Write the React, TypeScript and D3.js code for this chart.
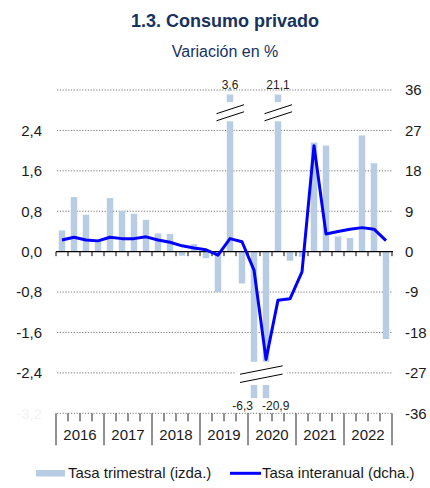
import * as d3 from "d3";

// quarterly data 2016-2022
const years = ["2016", "2017", "2018", "2019", "2020", "2021", "2022"];
const quarters = years.flatMap((y) => ["T1", "T2", "T3", "T4"].map((q) => `${y}-${q}`));

// Tasa trimestral (izda.)
const tasaTrimestral = [
  0.42, 1.08, 0.73, 0.21,
  1.06, 0.81, 0.75, 0.63,
  0.36, 0.35, -0.08, 0.15,
  -0.13, -0.8, 3.6, -0.63,
  -6.3, -20.9, 21.1, -0.18,
  -0.1, 2.16, 2.1, 0.3,
  0.27, 2.3, 1.75, -1.73,
];

// Tasa interanual (dcha.)
const tasaInteranual = [
  2.6, 3.2, 2.6, 2.4,
  3.2, 2.9, 2.9, 3.3,
  2.6, 2.1, 1.3, 0.8,
  0.4, -0.8, 2.9, 2.2,
  -4.1, -24.0, -10.8, -10.5,
  -4.5, 23.6, 3.95, 4.5,
  5.0, 5.35, 5.0, 2.45,
];

const leftTicks = [3.2, 2.4, 1.6, 0.8, 0, -0.8, -1.6, -2.4, -3.2];
const leftLabels = ["", "2,4", "1,6", "0,8", "0,0", "-0,8", "-1,6", "-2,4", "-3,2"];
const rightTicks = [36, 27, 18, 9, 0, -9, -18, -27, -36];

const FONT = "'Liberation Sans', Arial, sans-serif";
const NAVY = "#17325f";
const BAR = "#b8cce4";

export default function App() {
  const x = d3
    .scaleBand<string>()
    .domain(quarters)
    .range([56, 392])
    .paddingInner(0.46)
    .paddingOuter(0.23);
  const yL = d3.scaleLinear().domain([-3.2, 3.2]).range([413.3, 90]);
  const yR = d3.scaleLinear().domain([-36, 36]).range([413.3, 90]);
  const bw = x.bandwidth();
  const cx = (q: string) => (x(q) as number) + bw / 2;
  const step = x.step();
  const x0 = 56;

  const line = d3
    .line<number>()
    .x((_, i) => cx(quarters[i]))
    .y((d) => yR(d));

  const fmt = (v: number) => String(v).replace(".", ",");

  // broken bars (outside the left scale)
  const bars: JSX.Element[] = [];
  const breaks: JSX.Element[] = [];
  const negBroken: number[] = [];
  tasaTrimestral.forEach((v, i) => {
    const q = quarters[i];
    const bx = x(q) as number;
    if (v > 3.2) {
      bars.push(<rect key={"b" + i} x={bx} width={bw} y={yL(2.58)} height={yL(0) - yL(2.58)} fill={BAR} />);
      bars.push(<rect key={"p" + i} x={bx} width={bw} y={yL(3.11)} height={yL(2.96) - yL(3.11)} fill={BAR} />);
      const c = cx(q);
      [2.82, 2.68].forEach((lv, k) =>
        breaks.push(
          <line key={`tb${i}-${k}`} x1={c - 13.5} x2={c + 14} y1={yL(lv) + 4.5} y2={yL(lv) - 4.5} stroke="#000" strokeWidth={1} />
        )
      );
      breaks.push(
        <text key={"tl" + i} x={c} y={yL(3.2) - 1.5} textAnchor="middle" fontSize={12} fill="#222">
          {fmt(v)}
        </text>
      );
    } else if (v < -3.2) {
      bars.push(<rect key={"b" + i} x={bx} width={bw} y={yL(0)} height={yL(-2.18) - yL(0)} fill={BAR} />);
      bars.push(<rect key={"p" + i} x={bx} width={bw} y={yL(-2.64)} height={yL(-2.9) - yL(-2.64)} fill={BAR} />);
      negBroken.push(i);
    } else {
      bars.push(
        <rect key={"b" + i} x={bx} width={bw} y={yL(Math.max(0, v))} height={Math.abs(yL(v) - yL(0))} fill={BAR} />
      );
    }
  });
  if (negBroken.length) {
    const cs = negBroken.map((i) => cx(quarters[i]));
    const mid = d3.mean(cs)! + 1.3;
    breaks.push(<rect key="gapgrid" x={mid - 26} width={52} y={yL(-2.4) - 1.5} height={3} fill="#fff" />);
    [-2.344, -2.507].forEach((lv, k) =>
      breaks.push(
        <line key={"bb" + k} x1={mid - 21.3} x2={mid + 21.3} y1={yL(lv) + 4.2} y2={yL(lv) - 4.2} stroke="#000" strokeWidth={1} />
      )
    );
    negBroken.forEach((i, k) => {
      const c = cx(quarters[i]);
      breaks.push(
        <text
          key={"bl" + i}
          x={k === 0 ? c - 1 : c - 4}
          y={yL(-3.2) - 3}
          textAnchor={k === 0 ? "end" : "start"}
          fontSize={12}
          fill="#222"
        >
          {fmt(tasaTrimestral[i])}
        </text>
      );
    });
  }

  const ticks = d3.range(quarters.length + 1);

  return (
    <svg width={430} height={488} style={{ position: "absolute", left: 0, top: 0, fontFamily: FONT }}>
      <rect width={430} height={488} fill="#fff" />
      <text x={225} y={26.5} textAnchor="middle" fontSize={18} fontWeight="bold" fill={NAVY}>
        1.3. Consumo privado
      </text>
      <text x={225} y={57.3} textAnchor="middle" fontSize={16} fill={NAVY}>
        Variación en %
      </text>

      {/* gridlines */}
      {leftTicks
        .filter((t) => t !== 0)
        .map((t) => (
          <line key={"g" + t} x1={57} x2={392} y1={yL(t)} y2={yL(t)} stroke="#777" strokeWidth={1} strokeDasharray="1.2,1.6" />
        ))}

      {bars}
      {breaks}

      {/* zero axis */}
      <line x1={56} x2={393} y1={yL(0)} y2={yL(0)} stroke="#000" strokeWidth={1.2} />
      {ticks.map((i) => (
        <line key={"zt" + i} x1={x0 + i * step} x2={x0 + i * step} y1={yL(0)} y2={yL(0) + 4.5} stroke="#000" strokeWidth={1} />
      ))}

      {/* bottom axis ticks */}
      {ticks.map((i) => (
        <line
          key={"bt" + i}
          x1={x0 + i * step}
          x2={x0 + i * step}
          y1={yL(-3.2)}
          y2={i % 4 === 0 ? yL(-3.2) + 32 : yL(-3.2) + 8}
          stroke="#222"
          strokeWidth={1}
        />
      ))}
      {years.map((y, k) => (
        <text key={y} x={x0 + (k * 4 + 2) * step} y={439.5} textAnchor="middle" fontSize={15} fill="#1a1a1a">
          {y}
        </text>
      ))}

      {/* interanual line */}
      <path d={line(tasaInteranual) || ""} fill="none" stroke="#0000ff" strokeWidth={3} strokeLinejoin="round" />

      {/* left axis labels */}
      {leftTicks.map((t, k) => (
        <text
          key={"ll" + t}
          x={42}
          y={yL(t) + 5.3}
          textAnchor="end"
          fontSize={15}
          fill={t === -3.2 ? "#f3f3f3" : "#1a1a1a"}
        >
          {leftLabels[k]}
        </text>
      ))}
      {/* right axis labels */}
      {rightTicks.map((t) => (
        <text key={"rl" + t} x={405} y={yR(t) + 5.3} fontSize={15} fill="#1a1a1a">
          {t}
        </text>
      ))}

      {/* legend */}
      <rect x={36} y={470} width={29} height={6.5} fill={BAR} />
      <text x={68} y={477.5} fontSize={15} fill="#1a1a1a">
        Tasa trimestral (izda.)
      </text>
      <line x1={230} x2={261} y1={473.3} y2={473.3} stroke="#0000ff" strokeWidth={3} />
      <text x={262} y={477.5} fontSize={15} fill="#1a1a1a">
        Tasa interanual (dcha.)
      </text>
    </svg>
  );
}
